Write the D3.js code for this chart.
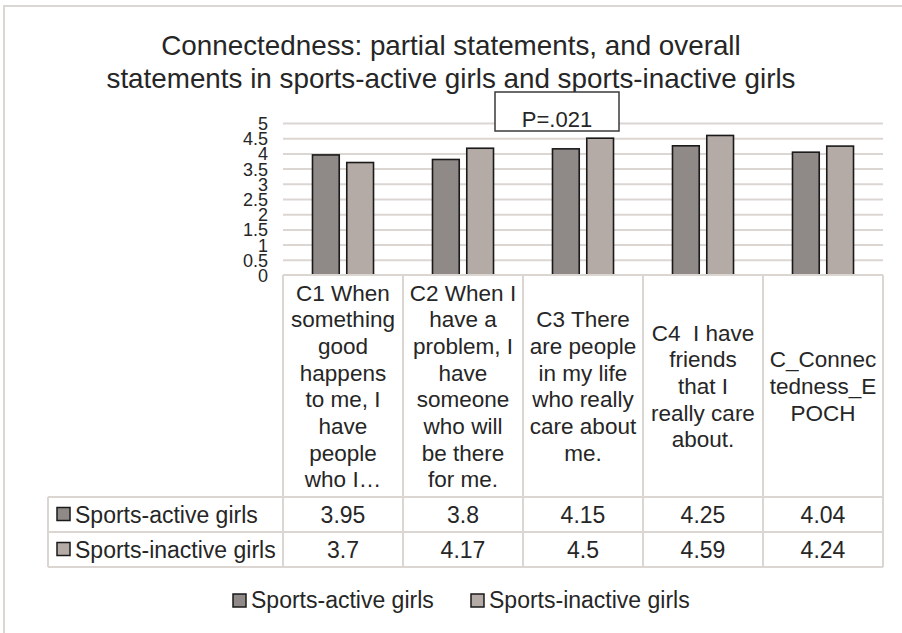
<!DOCTYPE html>
<html>
<head>
<meta charset="utf-8">
<script src="https://cdn.jsdelivr.net/npm/d3@7"></script>
<style>
  html, body { margin: 0; padding: 0; background: #fff; }
  svg { display: block; font-family: "Liberation Sans", Arial, sans-serif; }
  text { white-space: pre; }
</style>
</head>
<body>
<svg id="chart" width="902" height="633"></svg>
<script>
// Connectedness statements: mean scores per group
const categories = [
  ["C1 When", "something", "good", "happens", "to me, I", "have", "people", "who I\u2026"],
  ["C2 When I", "have a", "problem, I", "have", "someone", "who will", "be there", "for me."],
  ["C3 There", "are people", "in my life", "who really", "care about", "me."],
  ["C4  I have", "friends", "that I", "really care", "about."],
  ["C_Connec", "tedness_E", "POCH"]
];
const seriesNames = ["Sports-active girls", "Sports-inactive girls"];
const activeValues = [3.95, 3.8, 4.15, 4.25, 4.04];
const inactiveValues = [3.7, 4.17, 4.5, 4.59, 4.24];
const valueLabels = [
  ["3.95", "3.8", "4.15", "4.25", "4.04"],
  ["3.7", "4.17", "4.5", "4.59", "4.24"]
];
const yTicks = [0, 0.5, 1, 1.5, 2, 2.5, 3, 3.5, 4, 4.5, 5];
const yTickLabels = ["0", "0.5", "1", "1.5", "2", "2.5", "3", "3.5", "4", "4.5", "5"];
const titleLines = [
  "Connectedness: partial statements, and overall",
  "statements in sports-active girls and sports-inactive girls"
];
const annotation = "P=.021";
const seriesColors = ["#8f8a88", "#b4aaa6"];

const svg = d3.select("#chart");
const textColor = "#262626";
const lineColor = "#dcd6d3";

// outer frame (left and top edges)
svg.append("path")
  .attr("d", "M4,633 V6 H902")
  .attr("fill", "none").attr("stroke", "#dbd6d3").attr("stroke-width", 2);

// title
svg.append("g").selectAll("text").data(titleLines).join("text")
  .attr("x", 451).attr("y", (d, i) => 55 + i * 33)
  .attr("text-anchor", "middle").attr("font-size", 27.8).attr("fill", textColor)
  .text(d => d);

// scales
const plotLeft = 283, plotRight = 883, plotTop = 123, plotBottom = 275;
const catIdx = categories.map((d, i) => i);
const x0 = d3.scaleBand().domain(catIdx).range([plotLeft, plotRight]).padding(0);
const x1 = d3.scaleBand().domain([0, 1]).range([0, x0.bandwidth()])
  .paddingInner(0.22).paddingOuter(0.86);
const y = d3.scaleLinear().domain([0, 5]).range([plotBottom, plotTop]);

// gridlines
const grid = svg.append("g").attr("transform", `translate(${plotLeft},0)`)
  .call(d3.axisLeft(y).tickValues(yTicks.slice(1)).tickSize(-(plotRight - plotLeft)).tickFormat(""));
grid.select(".domain").remove();
grid.selectAll(".tick line").attr("stroke", lineColor).attr("stroke-width", 2);

// y tick labels (tightly stacked)
const yAxis = svg.append("g").attr("transform", `translate(268,0)`)
  .call(d3.axisLeft(y).tickValues(yTicks).tickSize(0).tickPadding(0)
    .tickFormat((d, i) => yTickLabels[i]));
yAxis.select(".domain").remove();
yAxis.selectAll("text").attr("font-size", 18).attr("fill", textColor)
  .attr("font-family", "Liberation Sans, Arial, sans-serif").attr("dy", "0.36em");

// annotation box
const ann = svg.append("g");
ann.append("rect").attr("x", 495).attr("y", 92).attr("width", 124).attr("height", 39)
  .attr("fill", "#fff").attr("stroke", "#3a3a3a").attr("stroke-width", 1.5);
ann.append("text").attr("x", 557).attr("y", 127).attr("text-anchor", "middle")
  .attr("font-size", 22).attr("fill", textColor).text(annotation);

// bars
const seriesValues = [activeValues, inactiveValues];
const bars = svg.append("g");
seriesValues.forEach((vals, s) => {
  bars.selectAll(null).data(vals).join("rect")
    .attr("x", (d, i) => x0(i) + x1(s))
    .attr("width", x1.bandwidth())
    .attr("y", d => y(d))
    .attr("height", d => y(0) - y(d))
    .attr("fill", seriesColors[s])
    .attr("stroke", "#1a1a1a").attr("stroke-width", 1.6);
});

// data table
const tableLeft = 48, headerTop = 275, headerBottom = 497, rowH = 35;
const table = svg.append("g");
const tl = (x1_, y1_, x2_, y2_) => table.append("line")
  .attr("x1", x1_).attr("y1", y1_).attr("x2", x2_).attr("y2", y2_)
  .attr("stroke", lineColor).attr("stroke-width", 2);
catIdx.forEach(i => tl(x0(i), headerTop, x0(i), headerBottom + 2 * rowH));
tl(plotRight, headerTop, plotRight, headerBottom + 2 * rowH);
tl(plotLeft, headerTop, plotRight, headerTop);
[0, 1, 2].forEach(r => tl(tableLeft, headerBottom + r * rowH, plotRight, headerBottom + r * rowH));
tl(tableLeft, headerBottom, tableLeft, headerBottom + 2 * rowH);

// header text, vertically centred in each cell
const lineH = 26.7;
const headerMid = (headerTop + headerBottom) / 2;
categories.forEach((lines, i) => {
  const cx = x0(i) + x0.bandwidth() / 2;
  const start = headerMid - (lines.length - 1) / 2 * lineH;
  table.selectAll(null).data(lines).join("text")
    .attr("x", cx).attr("y", (d, k) => start + k * lineH + 8)
    .attr("text-anchor", "middle").attr("font-size", 22.5).attr("fill", textColor)
    .text(d => d);
});

// table rows: key + values
seriesNames.forEach((name, s) => {
  const rowMid = headerBottom + s * rowH + rowH / 2;
  table.append("rect").attr("x", 57).attr("y", rowMid - 7).attr("width", 13).attr("height", 13)
    .attr("fill", seriesColors[s]).attr("stroke", "#1a1a1a").attr("stroke-width", 1.5);
  table.append("text").attr("x", 75).attr("y", rowMid + 8)
    .attr("font-size", 23).attr("fill", textColor).text(name);
  table.selectAll(null).data(valueLabels[s]).join("text")
    .attr("x", (d, i) => x0(i) + x0.bandwidth() / 2).attr("y", rowMid + 8)
    .attr("text-anchor", "middle").attr("font-size", 23).attr("fill", textColor)
    .text(d => d);
});

// legend
const legendX = [233, 471];
const legend = svg.append("g");
seriesNames.forEach((name, s) => {
  legend.append("rect").attr("x", legendX[s]).attr("y", 594).attr("width", 13).attr("height", 13)
    .attr("fill", seriesColors[s]).attr("stroke", "#1a1a1a").attr("stroke-width", 1.5);
  legend.append("text").attr("x", legendX[s] + 18).attr("y", 608)
    .attr("font-size", 23).attr("fill", textColor).text(name);
});
</script>
</body>
</html>
